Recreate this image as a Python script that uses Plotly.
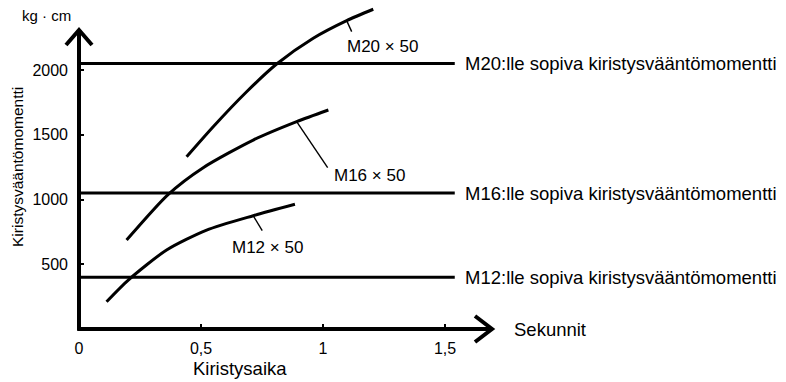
import plotly.graph_objects as go

# Tightening torque (kg·cm) against tightening time (s) for three bolt sizes
m20_time = [0.441, 0.550, 0.687, 0.810, 0.960, 1.097, 1.206]
m20_torque = [1330, 1562, 1832, 2046, 2245, 2381, 2469]

m16_time = [0.195, 0.366, 0.509, 0.714, 0.892, 1.022]
m16_torque = [687, 1040, 1246, 1459, 1601, 1691]

m12_time = [0.113, 0.202, 0.359, 0.523, 0.714, 0.885]
m12_torque = [211, 378, 610, 764, 875, 963]

curve_labels = ["M20 × 50", "M16 × 50", "M12 × 50"]

# Recommended tightening torque per bolt size
recommended_torque = [2050, 1050, 400]
recommended_labels = [
    "M20:lle sopiva kiristysvääntömomentti",
    "M16:lle sopiva kiristysvääntömomentti",
    "M12:lle sopiva kiristysvääntömomentti",
]

x_tickvals = [0, 0.5, 1, 1.5]
x_ticktext = ["0", "0,5", "1", "1,5"]
y_tickvals = [500, 1000, 1500, 2000]
y_ticktext = ["500", "1000", "1500", "2000"]

# ---- geometry -------------------------------------------------------------
W, H = 786, 382
ML, MR, MT, MB = 79, 0, 0, 53
PLOT_W, PLOT_H = W - ML - MR, H - MT - MB
X_PX = 244.0      # pixels per second
Y_PX = 0.1295     # pixels per kg·cm
x_max = PLOT_W / X_PX
y_max = PLOT_H / Y_PX


def dx(px):
    return px / X_PX


def dy(px):
    return px / Y_PX


def xp(x):
    """data x -> paper x"""
    return x / x_max


def yp(y):
    """data y -> paper y"""
    return y / y_max


FONT = "Liberation Sans, Arial, Helvetica, sans-serif"
BLACK = "#000000"

fig = go.Figure()

# recommended torque levels
ref_end = 1.54
for lvl in recommended_torque:
    fig.add_trace(go.Scatter(
        x=[0, ref_end], y=[lvl, lvl], mode="lines",
        line=dict(color=BLACK, width=3), hoverinfo="skip", showlegend=False,
        cliponaxis=False,
    ))

# measured curves
curves = [(m20_time, m20_torque), (m16_time, m16_torque), (m12_time, m12_torque)]
for t, q in curves:
    fig.add_trace(go.Scatter(
        x=t, y=q, mode="lines",
        line=dict(color=BLACK, width=3, shape="spline", smoothing=0.7),
        hoverinfo="skip", showlegend=False,
    ))

# leader lines from a curve point to its label (offsets in pixels)
leader_idx = [5, 4, 4]
leader_offsets = [(5, 11), (31, 46), (9, 15)]
label_offsets = [(-2, 25.5), (35, 54), (-23, 32)]
annotations = []
for (t, q), i, (ox, oy), (lx, ly), name in zip(curves, leader_idx, leader_offsets,
                                               label_offsets, curve_labels):
    x0, y0 = t[i], q[i]
    fig.add_trace(go.Scatter(
        x=[x0, x0 + dx(ox)], y=[y0, y0 - dy(oy)], mode="lines",
        line=dict(color=BLACK, width=1.4), hoverinfo="skip", showlegend=False,
    ))
    annotations.append(dict(
        x=x0 + dx(lx), y=y0 - dy(ly), xref="x", yref="y", text=name,
        showarrow=False, xanchor="left", yanchor="middle",
        font=dict(family=FONT, size=17, color=BLACK),
    ))

# labels of recommended levels
for lvl, name in zip(recommended_torque, recommended_labels):
    annotations.append(dict(
        x=ref_end + dx(8), y=lvl, xref="x", yref="y", text=name,
        showarrow=False, xanchor="left", yanchor="middle",
        font=dict(family=FONT, size=18.5, color=BLACK),
    ))

# axis lines with open arrow heads (paper coordinates, so nothing is clipped)
x_tip = dx(492 - ML)
y_tip = dy(PLOT_H - 30)
shapes = [
    dict(type="line", xref="paper", yref="paper",
         x0=xp(0), y0=yp(0) - 0.004, x1=xp(0), y1=yp(y_tip),
         line=dict(color=BLACK, width=4)),
    dict(type="line", xref="paper", yref="paper",
         x0=xp(0) - 0.0025, y0=yp(0), x1=xp(x_tip), y1=yp(0),
         line=dict(color=BLACK, width=4)),
    dict(type="path", xref="paper", yref="paper",
         path=(f"M {xp(-dx(13))},{yp(y_tip - dy(15))} L {xp(0)},{yp(y_tip)} "
               f"L {xp(dx(13))},{yp(y_tip - dy(15))}"),
         line=dict(color=BLACK, width=4)),
    dict(type="path", xref="paper", yref="paper",
         path=(f"M {xp(x_tip - dx(17))},{yp(dy(13))} L {xp(x_tip)},{yp(0)} "
               f"L {xp(x_tip - dx(17))},{yp(-dy(13))}"),
         line=dict(color=BLACK, width=4)),
]

# axis titles and unit
annotations += [
    dict(x=xp(x_tip + dx(20)), y=yp(0), xref="paper", yref="paper", text="Sekunnit",
         showarrow=False, xanchor="left", yanchor="middle",
         font=dict(family=FONT, size=18.5, color=BLACK)),
    dict(x=xp(dx(240 - ML)), y=yp(-dy(39)), xref="paper", yref="paper",
         text="Kiristysaika",
         showarrow=False, xanchor="center", yanchor="middle",
         font=dict(family=FONT, size=18.5, color=BLACK)),
    dict(x=xp(-dx(33)), y=yp(y_max - dy(15)), xref="paper", yref="paper",
         text="kg · cm",
         showarrow=False, xanchor="center", yanchor="middle",
         font=dict(family=FONT, size=15, color=BLACK)),
    dict(x=xp(-dx(62)), y=yp(dy(PLOT_H - 167)), xref="paper", yref="paper",
         text="Kiristysvääntömomentti", textangle=-90,
         showarrow=False, xanchor="center", yanchor="middle",
         font=dict(family=FONT, size=15.5, color=BLACK)),
]

fig.update_layout(
    width=W, height=H,
    margin=dict(l=ML, r=MR, t=MT, b=MB, pad=0),
    paper_bgcolor="white", plot_bgcolor="white",
    showlegend=False,
    xaxis=dict(
        range=[0, x_max], showgrid=False, zeroline=False, showline=False,
        tickmode="array", tickvals=x_tickvals, ticktext=x_ticktext,
        ticks="inside", ticklen=5, tickwidth=1.5, tickcolor=BLACK,
        ticklabelstandoff=8,
        tickfont=dict(family=FONT, size=16, color=BLACK),
        fixedrange=True,
    ),
    yaxis=dict(
        range=[0, y_max], showgrid=False, zeroline=False, showline=False,
        tickmode="array", tickvals=y_tickvals, ticktext=y_ticktext,
        ticks="inside", ticklen=5, tickwidth=1.5, tickcolor=BLACK,
        ticklabelstandoff=10,
        tickfont=dict(family=FONT, size=16, color=BLACK),
        fixedrange=True,
    ),
    shapes=shapes,
    annotations=annotations,
)

fig.write_html("out.html")
